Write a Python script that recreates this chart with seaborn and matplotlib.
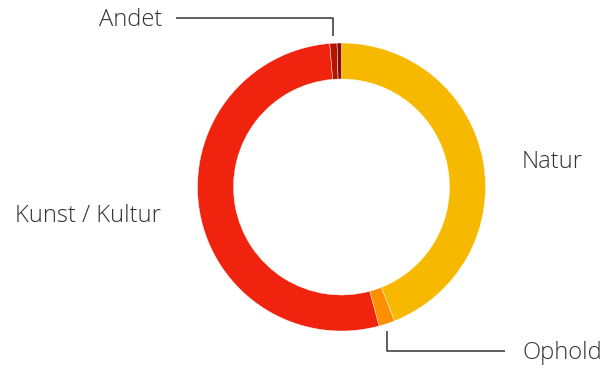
import numpy as np
import matplotlib
matplotlib.use("Agg")
import matplotlib.pyplot as plt
import seaborn as sns

categories = ["Natur", "Ophold", "Kunst / Kultur", "Andet", ""]
values = [44.0, 1.8, 52.9, 0.8, 0.5]
colors = ["#F7B900", "#FF8F00", "#F0230E", "#B51200", "#8A0D00"]

sns.set_theme(style="white")
plt.rcParams["font.family"] = ["Open Sans", "DejaVu Sans"]

W, H = 613, 369
fig = plt.figure(figsize=(W / 100, H / 100), dpi=100)
ax = fig.add_axes([0, 0, 1, 1])

cx, cy, R, ring = 341.5, H - 187, 144, 36
wedges, _ = ax.pie(values, colors=colors, startangle=90, counterclock=False,
                   center=(cx, cy), radius=R, frame=True,
                   wedgeprops=dict(width=ring, edgecolor="white", linewidth=0.3))
ax.set_xlim(0, W)
ax.set_ylim(0, H)
ax.set_aspect("equal")
ax.set_axis_off()

txt = dict(fontsize=17.1, color="#333333", va="center", fontweight="light")
line = dict(color="#333333", lw=1.1, solid_capstyle="butt")


def mid_point(w, r):
    a = np.deg2rad((w.theta1 + w.theta2) / 2)
    return cx + r * np.cos(a), cy + r * np.sin(a)

# Natur and Kunst / Kultur sit beside the ring
ax.text(522, H - 162, categories[0], ha="left", **txt)
ax.text(161, H - 216, categories[2], ha="right", **txt)

# Andet with an elbow leader above the ring
x, y = mid_point(wedges[3], R)
ly = H - 18
ax.plot([x, x, 176], [y + 7, ly, ly], **line)
ax.text(162, H - 20, categories[3], ha="right", **txt)

# Ophold with an elbow leader below the ring
x, y = mid_point(wedges[1], R)
ly = H - 351
ax.plot([x, x, 505], [y - 7, ly, ly], **line)
ax.text(522, H - 353, categories[1], ha="left", **txt)

fig.savefig("out.png", dpi=100)
